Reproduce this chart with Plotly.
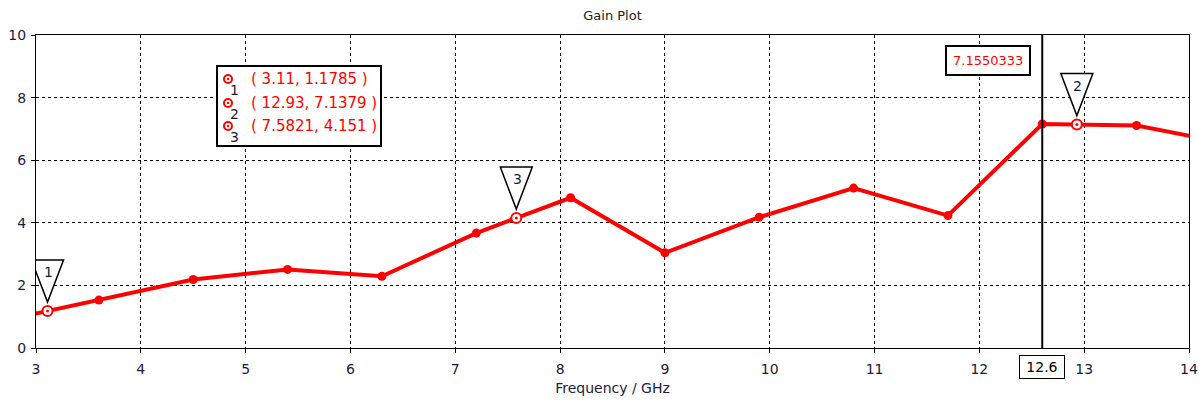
import plotly.graph_objects as go

# Gain curve samples (GHz, dB)
freq = [2.7, 3.6, 4.5, 5.4, 6.3, 7.2, 8.1, 9.0, 9.9, 10.8, 11.7, 12.6, 13.5, 14.4]
gain = [0.884, 1.53, 2.19, 2.51, 2.29, 3.672, 4.80, 3.04, 4.18, 5.11, 4.23, 7.1550333, 7.108, 6.52]

# Marker readouts
marker_ids = ["1", "2", "3"]
marker_x = [3.11, 12.93, 7.5821]
marker_y = [1.1785, 7.1379, 4.151]

# Cursor line
cursor_x = 12.6
cursor_value = 7.1550333

x_ticks = [3, 4, 5, 6, 7, 8, 9, 10, 11, 12, 13, 14]
y_ticks = [0, 2, 4, 6, 8, 10]

W, H = 1203, 403
L, R, T, B = 36, 14, 35, 55
PW, PH = W - L - R, H - T - B


def paper_x(px):
    return (px - L) / PW


def paper_y(py):
    return (H - B - py) / PH


FONT = "DejaVu Sans, Verdana, sans-serif"
RED = "#ff0000"
INK = "#1a1a40"

fig = go.Figure()

fig.add_trace(go.Scatter(
    x=freq, y=gain, mode="lines+markers",
    line=dict(color=RED, width=4),
    marker=dict(color=RED, size=9),
    cliponaxis=True, hoverinfo="skip", showlegend=False,
))

# Marker symbols on the curve
fig.add_trace(go.Scatter(
    x=marker_x, y=marker_y, mode="markers",
    marker=dict(color="white", size=10, line=dict(color=RED, width=2)),
    showlegend=False, hoverinfo="skip",
))
fig.add_trace(go.Scatter(
    x=marker_x, y=marker_y, mode="markers",
    marker=dict(color=RED, size=3),
    showlegend=False, hoverinfo="skip",
))

shapes = []
annotations = []

# Inverted triangle flags above each marker
for mid, mx, my in zip(marker_ids, marker_x, marker_y):
    shapes.append(dict(
        type="path", xref="x", yref="y",
        xsizemode="pixel", ysizemode="pixel",
        xanchor=mx, yanchor=my,
        path="M-16,51 L16,51 L0,9 Z",
        line=dict(color="black", width=1.5), fillcolor="white",
        layer="above",
    ))
    annotations.append(dict(
        x=mx, y=my, xref="x", yref="y", text=mid, showarrow=False,
        xanchor="center", xshift=1, yshift=39, font=dict(family=FONT, size=14, color=INK),
    ))

# Cursor line and labels
shapes.append(dict(type="line", xref="x", yref="paper", x0=cursor_x, x1=cursor_x,
                   y0=0, y1=1, line=dict(color="black", width=2), layer="above"))
annotations.append(dict(
    x=cursor_x, y=0, xref="x", yref="paper", text=f"{cursor_x:g}", showarrow=False,
    yanchor="top", yshift=-7, bgcolor="white", bordercolor="black", borderwidth=1,
    borderpad=3, width=38, font=dict(family=FONT, size=14, color="black"),
))
annotations.append(dict(
    x=cursor_x, y=1, xref="x", yref="paper", text=f"{cursor_value:.7f}", showarrow=False,
    xanchor="right", yanchor="top", xshift=-11, yshift=-10,
    bgcolor="white", bordercolor="black", borderwidth=2, borderpad=6,
    font=dict(family=FONT, size=13, color=RED),
))

# Marker readout box
shapes.append(dict(type="rect", xref="paper", yref="paper",
                   x0=paper_x(217), x1=paper_x(381), y0=paper_y(146), y1=paper_y(66),
                   line=dict(color="black", width=2), fillcolor="white", layer="above"))
row_py = [79, 103, 126]
for mid, mx, my, py in zip(marker_ids, marker_x, marker_y, row_py):
    # small target glyph for the row
    shapes.append(dict(type="circle", xref="paper", yref="paper",
                       xsizemode="pixel", ysizemode="pixel",
                       xanchor=paper_x(228), yanchor=paper_y(py),
                       x0=-4, x1=4, y0=-4, y1=4,
                       line=dict(color=RED, width=2), fillcolor="white", layer="above"))
    shapes.append(dict(type="circle", xref="paper", yref="paper",
                       xsizemode="pixel", ysizemode="pixel",
                       xanchor=paper_x(228), yanchor=paper_y(py),
                       x0=-1.2, x1=1.2, y0=-1.2, y1=1.2,
                       line=dict(color=RED, width=0), fillcolor=RED, layer="above"))
    annotations.append(dict(
        x=paper_x(249), y=paper_y(py), xref="paper", yref="paper",
        text=f"( {mx:g}, {my:g} )", showarrow=False, xanchor="left", yanchor="middle",
        font=dict(family=FONT, size=15, color=RED),
    ))
    annotations.append(dict(
        x=paper_x(228), y=paper_y(py + 11), xref="paper", yref="paper",
        text=mid, showarrow=False, xanchor="left", yanchor="middle",
        font=dict(family=FONT, size=14, color=INK),
    ))

axis_common = dict(
    showline=True, mirror=True, linecolor="black", linewidth=1,
    showgrid=True, gridcolor="black", gridwidth=1, griddash="3px,3px",
    ticks="outside", ticklen=4, tickcolor="black",
    tickfont=dict(family=FONT, size=14, color=INK),
    zeroline=False, automargin=False,
)

fig.update_layout(
    width=W, height=H,
    margin=dict(l=L, r=R, t=T, b=B, autoexpand=False),
    paper_bgcolor="white", plot_bgcolor="white",
    title=dict(text="Gain Plot", x=0.5, xref="paper", y=1 - 15 / H, yanchor="middle",
               font=dict(family=FONT, size=13, color="#202020")),
    xaxis=dict(range=[3, 14], tickvals=x_ticks, ticklabelstandoff=4, **axis_common,
               title=dict(text="Frequency / GHz", standoff=7,
                          font=dict(family=FONT, size=14, color="#202040"))),
    yaxis=dict(range=[0, 10], tickvals=y_ticks, ticklabelstandoff=2, **axis_common),
    shapes=shapes, annotations=annotations,
)

fig.write_html("out.html")
